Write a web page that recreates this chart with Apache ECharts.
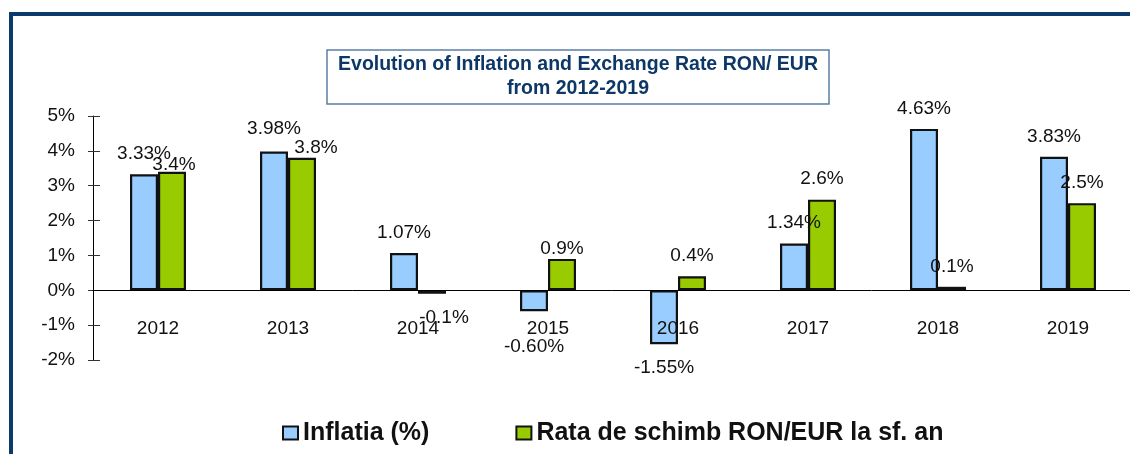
<!DOCTYPE html>
<html>
<head>
<meta charset="utf-8">
<script src="https://cdn.jsdelivr.net/npm/echarts@6/dist/echarts.min.js"></script>
<style>
  html, body { margin: 0; padding: 0; background: #fff; }
  #chart { width: 1130px; height: 454px; }
</style>
</head>
<body>
<div id="chart"></div>
<script>
/* ---------- data ---------- */
const years = ["2012", "2013", "2014", "2015", "2016", "2017", "2018", "2019"];
const inflation = [3.33, 3.98, 1.07, -0.60, -1.55, 1.34, 4.63, 3.83];
const exchangeRate = [3.4, 3.8, -0.1, 0.9, 0.4, 2.6, 0.1, 2.5];
const seriesNames = ["Inflatia (%)", "Rata de schimb RON/EUR la sf. an"];
const yTicks = { min: -2, max: 5, step: 1 };

/* label nudges (as in the original, some labels were moved by hand) */
const inflOffsets = { 1: [0, -2], 3: [0, 15], 4: [0, 3] };
const rateOffsets = { 0: [2, 13], 1: [14, 10], 2: [12, 3], 3: [0, 10] };

const FONT = "Liberation Sans, Arial, sans-serif";

function toItems(values, offsets) {
  return values.map((v, i) => {
    const off = offsets[i] || [0, 0];
    return { value: v, label: { position: v < 0 ? "bottom" : "top", offset: off } };
  });
}

const chart = echarts.init(document.getElementById("chart"));

const labelStyle = {
  show: true,
  distance: 11,
  fontFamily: FONT,
  fontSize: 19,
  lineHeight: 19,
  color: "#111",
};

chart.setOption({
  animation: false,
  textStyle: { fontFamily: FONT },
  title: {
    text: "Evolution of Inflation and Exchange Rate RON/ EUR\nfrom 2012-2019",
    left: 567,
    top: 50,
    textAlign: "center",
    padding: [3, 11, 3, 11],
    borderColor: "#5b7ea6",
    borderWidth: 1.5,
    textStyle: {
      fontFamily: FONT,
      fontSize: 19.5,
      fontWeight: "bold",
      lineHeight: 24,
      color: "#0c3766",
    },
  },
  graphic: [
    {
      type: "rect",
      shape: { x: 11, y: 14, width: 1300, height: 700 },
      style: { fill: "none", stroke: "#0b3a6c", lineWidth: 4 },
      silent: true,
    },
  ],
  legend: {
    left: 282,
    top: 420,
    padding: 0,
    itemWidth: 15,
    itemHeight: 13,
    itemGap: 86,
    icon: "rect",
    itemStyle: { borderColor: "#111", borderWidth: 2 },
    textStyle: {
      fontFamily: FONT,
      fontSize: 25,
      fontWeight: "bold",
      lineHeight: 26,
      color: "#111",
    },
    data: seriesNames,
  },
  grid: {
    left: 93,
    right: -3,
    top: 116,
    bottom: 94,
    outerBoundsMode: "none",
  },
  xAxis: [
    {
      type: "category",
      data: years,
      z: 5,
      axisLine: { onZero: true, lineStyle: { color: "#000", width: 1 } },
      axisTick: { inside: false, length: 6, lineStyle: { color: "#888" } },
      axisLabel: { margin: 29, fontSize: 19, fontFamily: FONT, color: "#111" },
      splitLine: { show: false },
    },
    {
      type: "category",
      data: years,
      position: "bottom",
      axisLine: { show: false, onZero: true },
      axisTick: { inside: true, length: 6, lineStyle: { color: "#888" } },
      axisLabel: { show: false },
      splitLine: { show: false },
    },
  ],
  yAxis: [
    {
      type: "value",
      min: yTicks.min,
      max: yTicks.max,
      interval: yTicks.step,
      axisLine: { show: true, lineStyle: { color: "#000", width: 1 } },
      axisTick: { show: true, inside: false, length: 5, lineStyle: { color: "#333" } },
      axisLabel: { margin: 18, fontSize: 19, fontFamily: FONT, color: "#111", formatter: "{value}%" },
      splitLine: { show: false },
    },
    {
      type: "value",
      position: "left",
      min: yTicks.min,
      max: yTicks.max,
      interval: yTicks.step,
      axisLine: { show: false },
      axisTick: { show: true, inside: true, length: 7, lineStyle: { color: "#333" } },
      axisLabel: { show: false },
      splitLine: { show: false },
    },
  ],
  series: [
    {
      name: seriesNames[0],
      type: "bar",
      barWidth: 28,
      barGap: "0%",
      itemStyle: { color: "#99ccff", borderColor: "#111", borderWidth: 2.2 },
      label: Object.assign({}, labelStyle, {
        formatter: (p) => p.value.toFixed(2) + "%",
      }),
      data: toItems(inflation, inflOffsets),
    },
    {
      name: seriesNames[1],
      type: "bar",
      barWidth: 28,
      barGap: "0%",
      itemStyle: { color: "#99cc00", borderColor: "#111", borderWidth: 2.2 },
      label: Object.assign({}, labelStyle, {
        formatter: (p) => p.value.toFixed(1) + "%",
      }),
      data: toItems(exchangeRate, rateOffsets),
    },
  ],
});

/* ECharts v6 keeps the category labels at the grid edge even with onZero;
   pull them up to sit just under the zero line as in the original. */
const yZero = chart.convertToPixel({ yAxisIndex: 0 }, 0);
const gridBottom = 454 - 94;
chart.setOption({
  xAxis: [{ axisLabel: { margin: 29 - (gridBottom - yZero) } }],
});
</script>
</body>
</html>
